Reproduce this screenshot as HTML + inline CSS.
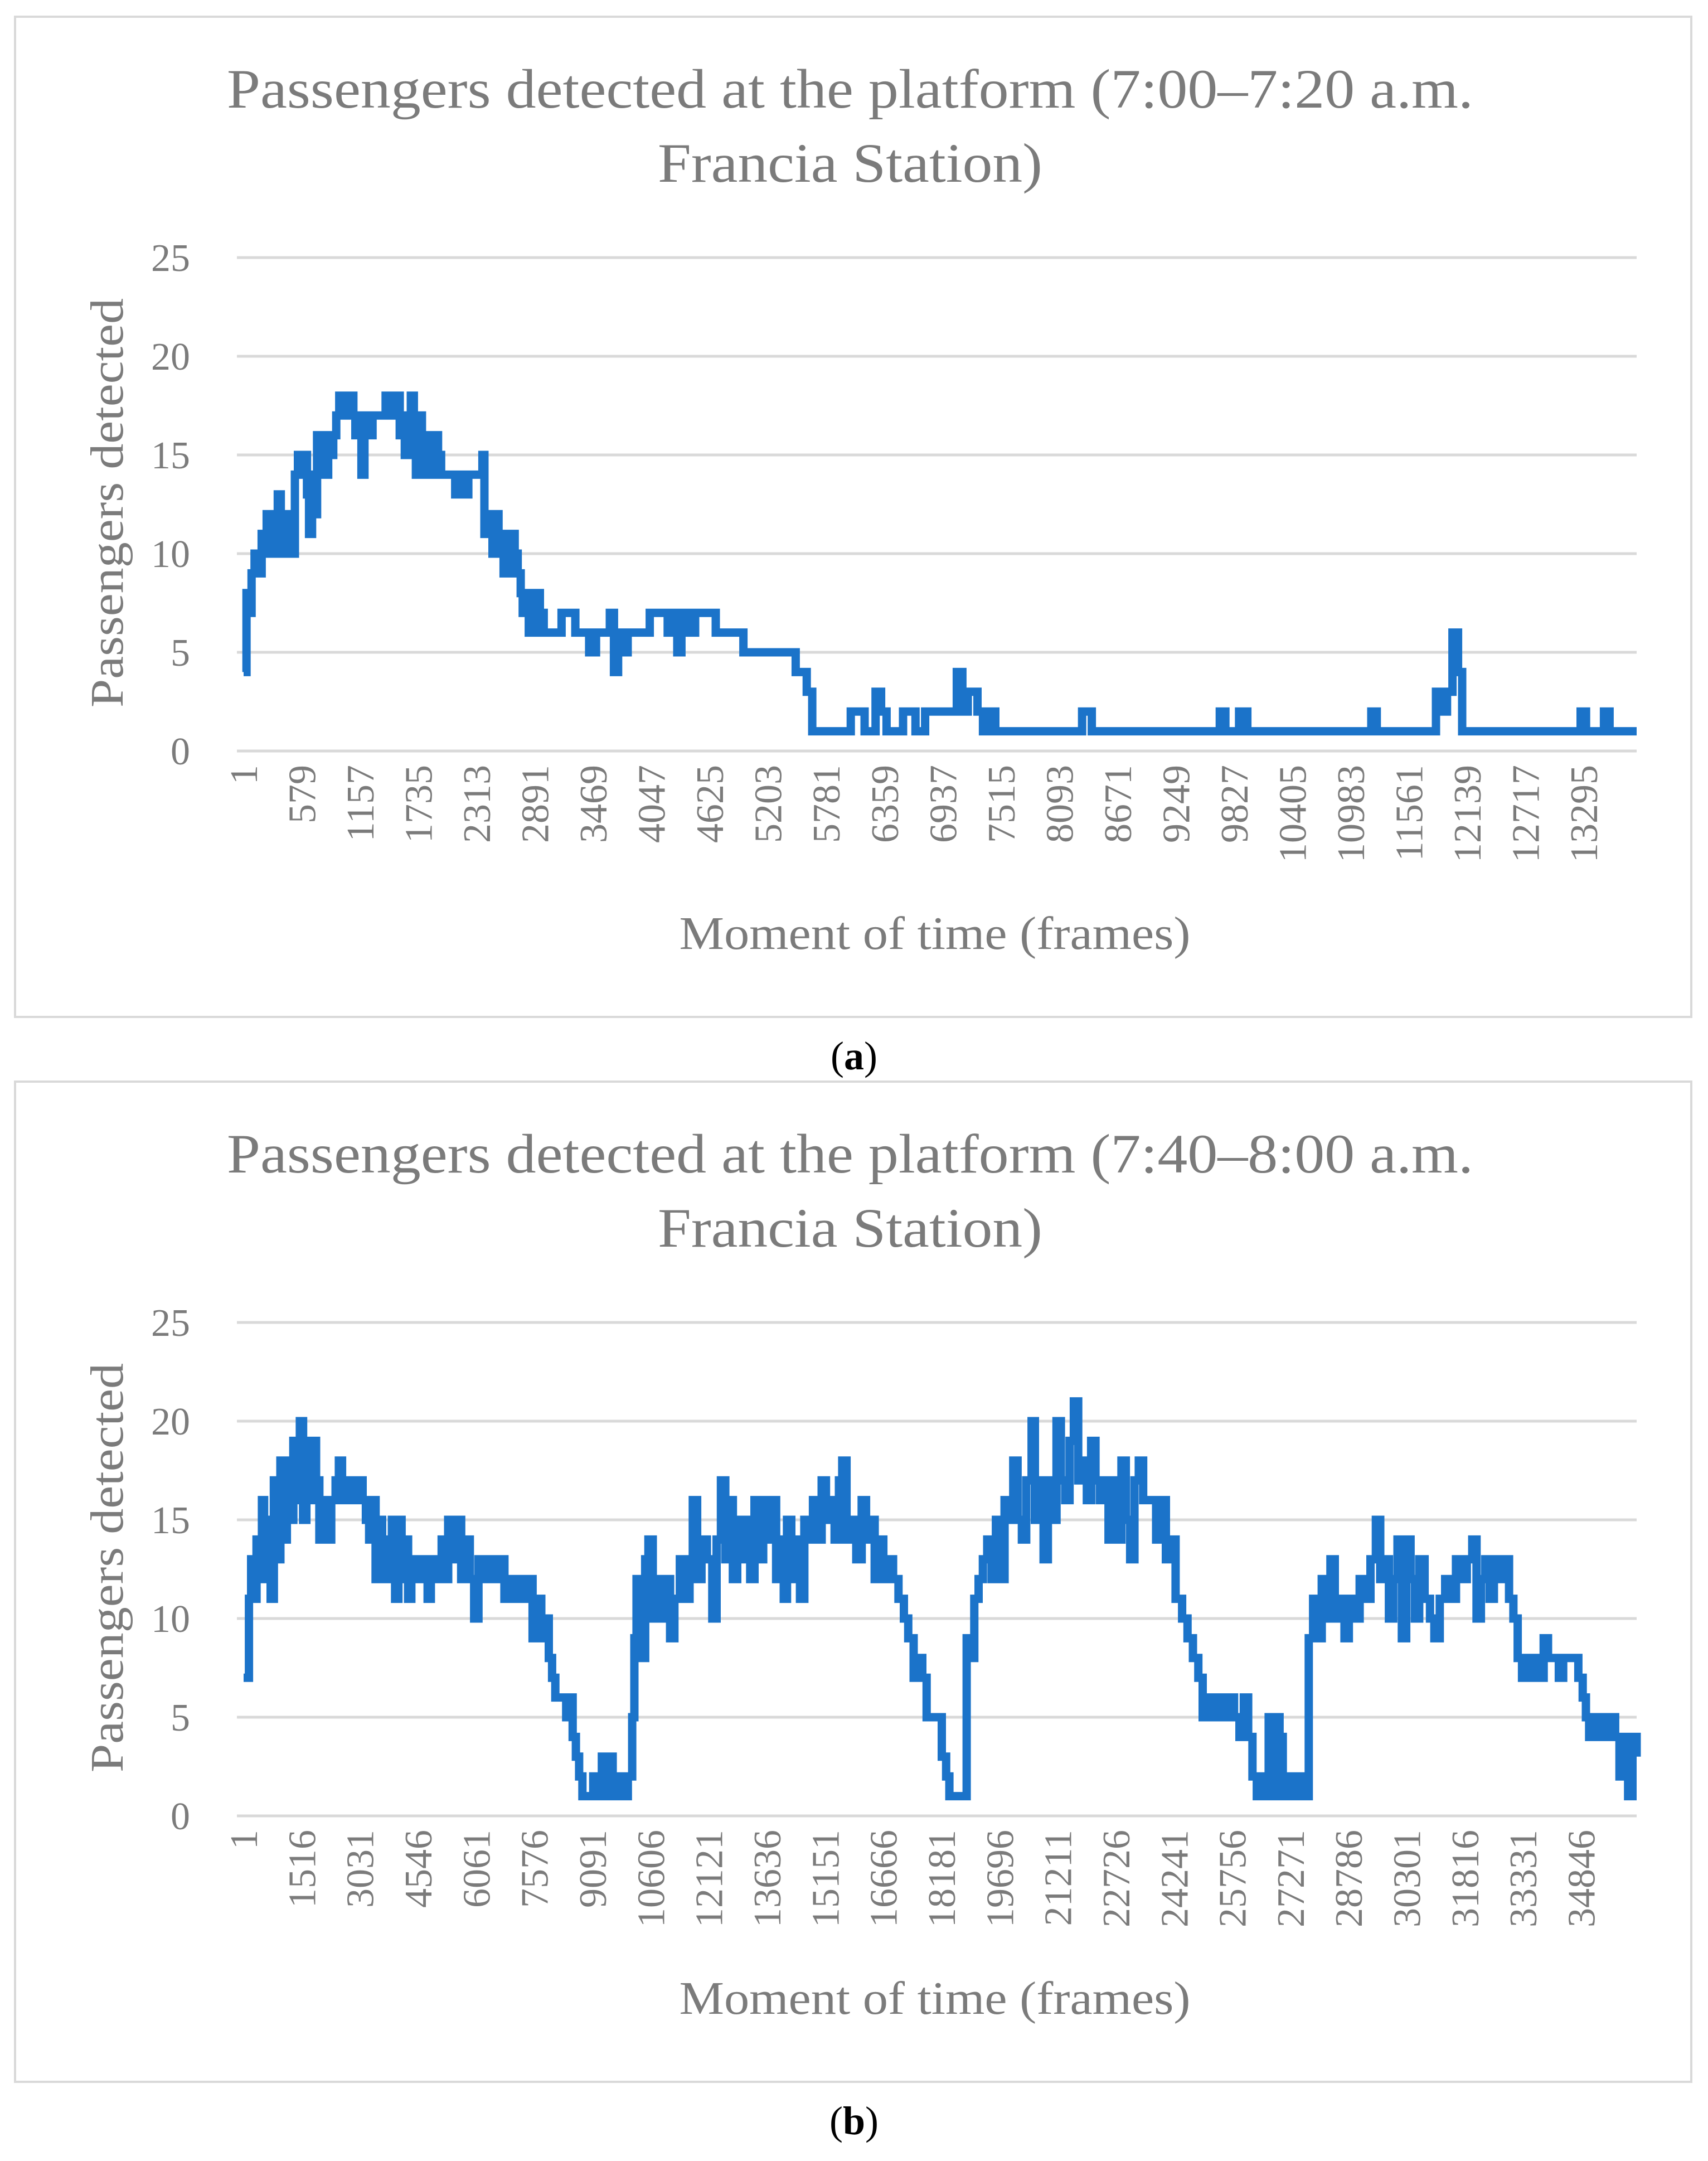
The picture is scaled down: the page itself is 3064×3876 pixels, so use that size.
<!DOCTYPE html>
<html><head><meta charset="utf-8">
<style>
html,body{margin:0;padding:0;background:#fff;}
svg{display:block;}
text{font-family:"Liberation Serif",serif;}
</style></head>
<body>
<svg id="root" width="3064" height="3876" viewBox="0 0 3064 3876" xmlns="http://www.w3.org/2000/svg"></svg>
<script>
// ---- Chart (a) data ----
const framesA = [1,30,50,80,110,150,180,200,230,260,290,320,340,370,400,430,450,480,510,540,560,600,630,650,680,700,730,760,780,810,840,870,890,920,950,980,1000,1030,1060,1090,1110,1140,1170,1200,1220,1250,1280,1340,1410,1480,1510,1550,1580,1600,1630,1660,1690,1710,1740,1770,1800,1820,1850,1880,1910,1930,1960,2030,2100,2120,2160,2230,2340,2370,2390,2420,2450,2470,2500,2530,2560,2580,2610,2640,2670,2690,2720,2750,2770,2800,2830,2860,2880,2910,2940,2960,
  2978,3046,3155,3292,3429,3497,3634,3675,3716,3770,3811,4030,4208,4248,4303,4344,4412,4480,4685,4959,5478,5587,5642,6024,6161,6270,6325,6379,6543,6666,6762,7008,7076,7131,7185,7281,7336,7390,7458,8319,8415,9685,9740,9876,9958,11188,11242,11829,11898,11939,11993,12048,12089,13264,13318,13496,13551,13820];
const valuesA = [4,8,7,9,10,9,11,10,12,10,12,11,13,10,12,11,12,10,14,15,14,15,13,11,14,12,16,15,16,14,16,15,16,17,18,17,18,17,18,17,16,17,14,16,17,16,17,17,18,17,18,16,17,15,17,18,16,14,17,14,16,15,16,14,16,15,14,14,13,14,13,14,14,15,11,12,11,10,12,11,10,9,11,9,11,10,9,8,7,8,6,7,6,8,6,7,
  6,6,7,6,5,6,7,4,6,5,6,7,6,7,5,7,6,7,6,5,4,3,1,2,1,3,2,1,2,1,2,2,4,2,3,2,1,2,1,2,1,2,1,2,1,2,1,3,2,3,6,4,1,2,1,2,1,1];
const ticksA = ["1","579","1157","1735","2313","2891","3469","4047","4625","5203","5781","6359","6937","7515","8093","8671","9249","9827","10405","10983","11561","12139","12717","13295"];
const maxA = 13820;

// ---- Chart (b) data ----
const framesB = [1,85,141,197,254,338,395,479,536,620,705,790,874,959,1043,1128,1213,1297,1382,1466,1551,1636,1720,1805,1889,1974,2115,2200,2284,2397,2482,2566,2679,2820,2961,3102,3187,3271,3356,3440,3525,3610,3694,3779,3863,3948,4033,4117,4202,4286,4371,4512,4653,4794,4879,5020,5161,5245,5330,5499,5584,5668,5753,5894,6007,6119,6232,6401,6542,6683,6796,6965,7078,7191,7332,7417,7529,7642,7755,7868,7952,8037,8121,8263,8404,8488,8573,8657,8742,8827,9109,9193,9334,9419,9532,9616,9729,9870,10011,10124,10180,10237,10349,10462,10547,10659,10772,10885,10998,11111,11223,11365,11477,11618,11703,11816,11929,12070,12211,12323,12436,12549,12634,12746,12859,12972,13085,13198,13310,13423,13536,13649,13762,13874,13987,14072,14156,14269,14382,14495,14608,14720,14833,14946,15059,15172,15284,15397,15510,15595,15707,15848,15961,16102,16215,16328,16441,16553,16666,16779,16920,17061,17202,17315,17456,17569,17681,17794,18076,18189,18302,18386,18753,18837,18950,19035,19148,19260,19373,19486,19599,19712,19824,19937,20050,20163,20276,20388,20529,20614,20727,20840,20952,21065,21178,21291,21404,21517,21629,21742,21855,21968,22080,22193,22306,22419,22532,22644,22757,22870,22983,23096,23208,23321,23434,23603,23772,23914,24026,24167,24280,24449,24590,24731,24872,24985,25126,25239,25380,25521,25662,25803,25944,26057,26170,26282,26395,26592,26705,26790,26875,26987,27072,27213,27326,27467,27608,27749,27862,27974,28087,28200,28313,28426,28567,28679,28792,28933,29074,29215,29356,29497,29610,29723,29836,29948,30061,30174,30287,30400,30512,30625,30766,30907,31020,31161,31302,31443,31584,31725,31866,32007,32120,32233,32346,32458,32571,32712,32853,32966,33079,33191,33304,33417,33530,33643,33756,33868,33981,34263,34376,34658,34771,34884,34968,35053,35166,35279,35392,35504,35617,35730,35843,35956,36068,36181,36290];
const valuesB = [7,7,11,13,11,14,12,16,12,15,11,17,13,18,14,18,15,19,16,20,15,19,16,19,17,14,16,14,16,17,18,16,17,16,17,16,15,14,16,12,15,12,14,12,15,11,15,12,14,11,13,12,13,11,13,12,14,12,15,13,15,12,14,12,10,13,12,13,12,13,11,12,11,12,11,12,9,11,9,10,8,7,6,6,5,6,4,3,2,1,2,1,3,1,3,1,2,1,2,5,9,12,8,13,14,10,12,10,12,9,11,13,11,13,16,12,14,13,10,14,17,13,16,12,15,13,15,12,16,13,16,14,16,12,14,11,15,12,14,11,15,14,16,14,17,15,16,14,17,18,14,15,13,16,14,15,12,14,12,13,12,11,10,9,7,8,7,5,5,3,2,1,1,9,8,11,12,13,14,12,15,12,16,15,18,15,14,17,20,15,17,13,17,15,20,17,16,19,21,17,18,16,19,17,16,17,14,17,14,18,15,13,17,18,16,16,14,16,13,14,11,10,9,8,7,5,6,5,6,5,6,5,4,6,4,2,1,2,5,1,5,4,1,2,1,2,1,9,11,9,12,10,13,10,11,9,11,10,12,11,13,15,12,13,10,12,14,9,14,12,10,13,11,10,9,11,12,11,13,12,13,14,10,12,13,11,13,12,13,11,10,8,7,8,7,8,7,9,8,7,8,8,7,6,5,4,5,4,5,4,5,4,2,4,1,4,3];
const ticksB = ["1","1516","3031","4546","6061","7576","9091","10606","12121","13636","15151","16666","18181","19696","21211","22726","24241","25756","27271","28786","30301","31816","33331","34846"];
const tickStepB = 1515;
const tickStepA = 578;
const maxB = 36290;
const yTicks = [0,5,10,15,20,25];

const NS = "http://www.w3.org/2000/svg";
const root = document.getElementById('root');
function mk(tag, attrs, parent){
  const e = document.createElementNS(NS, tag);
  for (const k in attrs) e.setAttribute(k, attrs[k]);
  (parent||root).appendChild(e);
  return e;
}
const GRAY = "#7b7b7b";

function drawChart(off, title1, title2, frames, values, ticks, step, maxF, letter, prefix){
  const g = mk('g', {});
  
  
  const x0 = 425, x1 = 2936, yTop = 462 + off, yBot = 1347 + off;
  const xs = f => x0 + 12 + (f - 1) / (maxF - 1) * (x1 - x0 - 12);
  const ys = v => yBot - v / 25 * (yBot - yTop);

  const frame = mk('rect', {x:27, y:30+off, width:3007, height:1794, fill:'#fff', stroke:'#d9d9d9', 'stroke-width':4}, g);
  
  

  const t1 = mk('text', {x:1525, y:193+off, 'text-anchor':'middle', 'font-size':100, fill:GRAY, textLength:2236, lengthAdjust:'spacingAndGlyphs'}, g);
  t1.textContent = title1;
  
  
  const t2 = mk('text', {x:1525, y:326+off, 'text-anchor':'middle', 'font-size':100, fill:GRAY, textLength:690, lengthAdjust:'spacingAndGlyphs'}, g);
  t2.textContent = title2;
  
  

  yTicks.forEach(v => {
    const ln = mk('line', {x1:x0, x2:x1, y1:ys(v), y2:ys(v), stroke:'#d9d9d9', 'stroke-width':5}, g);
    
    
    const tl = mk('text', {x:341, y:ys(v)+24, 'text-anchor':'end', 'font-size':70, fill:GRAY}, g);
    tl.textContent = v;
    
    
  });

  const yt = mk('text', {x:0, y:0, 'text-anchor':'middle', 'font-size':84, fill:GRAY, textLength:734, lengthAdjust:'spacingAndGlyphs', transform:`translate(220,${902+off}) rotate(-90)`}, g);
  yt.textContent = 'Passengers detected';
  
  

  ticks.forEach((lab, i) => {
    const f = 1 + i * step;
    const x = xs(f);
    const tl = mk('text', {x:0, y:0, 'text-anchor':'end', 'font-size':70, fill:GRAY, transform:`translate(${x+24},${1372+off}) rotate(-90)`}, g);
    tl.textContent = lab;
    
    
  });

  const xt = mk('text', {x:1677, y:1702+off, 'text-anchor':'middle', 'font-size':84, fill:GRAY, textLength:917, lengthAdjust:'spacingAndGlyphs'}, g);
  xt.textContent = 'Moment of time (frames)';
  
  

  let d = `M${xs(frames[0]).toFixed(1)},${ys(values[0]).toFixed(1)}`;
  for (let i = 1; i < frames.length; i++) {
    d += `H${xs(frames[i]).toFixed(1)}V${ys(values[i]).toFixed(1)}`;
  }
  const p = mk('path', {d:d, fill:'none', stroke:'#1b73c9', 'stroke-width':15, 'stroke-linejoin':'miter'}, g);
  
  

  const cap = mk('text', {x:1532, y:1918+off, 'text-anchor':'middle', 'font-size':72, fill:'#000'}, g);
  cap.innerHTML = '(<tspan font-weight="bold">' + letter + '</tspan>)';
  
  
}

drawChart(0, 'Passengers detected at the platform (7:00\u20137:20 a.m.', 'Francia Station)', framesA, valuesA, ticksA, tickStepA, maxA, 'a', 'top');
drawChart(1910, 'Passengers detected at the platform (7:40\u20138:00 a.m.', 'Francia Station)', framesB, valuesB, ticksB, tickStepB, maxB, 'b', 'bottom');
</script>
</body></html>
